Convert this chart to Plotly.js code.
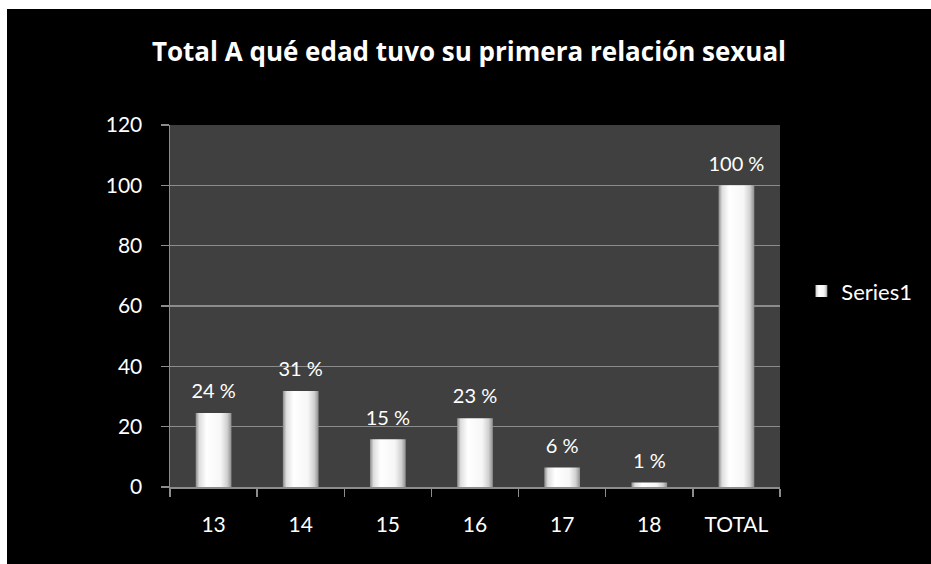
<!DOCTYPE html>
<html>
<head>
<meta charset="utf-8">
<script src="https://cdn.plot.ly/plotly-3.0.1.min.js"></script>
<style>
  html, body { margin: 0; padding: 0; background: #ffffff; width: 931px; height: 564px; overflow: hidden; }
  #chart { position: absolute; left: 7px; top: 9px; width: 924px; height: 555px; }
</style>
</head>
<body>
<div id="chart"></div>
<script>
const categories = ['13', '14', '15', '16', '17', '18', 'TOTAL'];
const values = [24.5, 31.8, 15.8, 22.8, 6.5, 1.5, 100];
const labels = ['24 %', '31 %', '15 %', '23 %', '6 %', '1 %', '100 %'];
const seriesName = 'Series1';
const chartTitle = 'Total A qué edad tuvo su primera relación sexual';

const FONT = 'Lato, "Open Sans", sans-serif';
const TITLE_FONT = '"Open Sans", Lato, sans-serif';

const bars = {
  type: 'bar',
  x: categories,
  y: values,
  name: seriesName,
  width: 0.41,
  marker: { color: '#eeeeee', line: { width: 0 } },
  hoverinfo: 'x+y'
};

const textTrace = {
  type: 'scatter',
  mode: 'markers+text',
  x: categories,
  y: values,
  text: labels,
  textposition: 'top center',
  textfont: { family: FONT, size: 20, color: '#ffffff' },
  marker: { size: 14, opacity: 0 },
  showlegend: false,
  hoverinfo: 'skip',
  cliponaxis: false
};

const layout = {
  width: 924,
  height: 555,
  paper_bgcolor: '#000000',
  plot_bgcolor: '#404040',
  margin: { l: 163, r: 151, t: 116, b: 77 },
  title: {
    text: '<b>' + chartTitle + '</b>',
    font: { family: TITLE_FONT, size: 26, color: '#ffffff' },
    x: 0.5, xanchor: 'center',
    y: 1 - 43 / 555, yanchor: 'middle'
  },
  xaxis: {
    type: 'category',
    tickson: 'boundaries',
    ticks: 'outside',
    ticklen: 8,
    tickcolor: '#8c8c8c',
    tickwidth: 1.5,
    showline: true,
    linecolor: '#8c8c8c',
    linewidth: 1.5,
    showgrid: false,
    tickfont: { family: FONT, size: 21, color: '#ffffff' },
    ticklabelstandoff: 18,
    fixedrange: true
  },
  yaxis: {
    range: [0, 120],
    tickvals: [0, 20, 40, 60, 80, 100, 120],
    ticks: 'outside',
    ticklen: 8,
    tickcolor: '#8c8c8c',
    tickwidth: 1.5,
    showline: true,
    linecolor: '#8c8c8c',
    linewidth: 1.5,
    showgrid: true,
    gridcolor: '#8c8c8c',
    gridwidth: 1.5,
    zeroline: false,
    tickfont: { family: FONT, size: 21, color: '#ffffff' },
    ticklabelstandoff: 14,
    fixedrange: true
  },
  showlegend: true,
  legend: {
    x: 1.035, xanchor: 'left',
    y: 0.541, yanchor: 'middle',
    bgcolor: 'rgba(0,0,0,0)',
    font: { family: FONT, size: 22, color: '#ffffff' },
    itemwidth: 30
  },
  bargap: 0.59
};

Plotly.newPlot('chart', [bars, textTrace], layout, { displayModeBar: false, staticPlot: true }).then(function (gd) {
  const svgNS = 'http://www.w3.org/2000/svg';
  const svg = gd.querySelector('svg.main-svg');
  let defs = svg.querySelector('defs');
  if (!defs) { defs = document.createElementNS(svgNS, 'defs'); svg.insertBefore(defs, svg.firstChild); }
  const grad = document.createElementNS(svgNS, 'linearGradient');
  grad.setAttribute('id', 'barGrad');
  grad.setAttribute('x1', '0'); grad.setAttribute('y1', '0');
  grad.setAttribute('x2', '1'); grad.setAttribute('y2', '0');
  [['0', '#8a8a8a'], ['0.1', '#dedede'], ['0.3', '#ffffff'], ['0.7', '#f6f6f6'], ['0.88', '#d0d0d0'], ['1', '#8e8e8e']].forEach(function (s) {
    const st = document.createElementNS(svgNS, 'stop');
    st.setAttribute('offset', s[0]);
    st.setAttribute('stop-color', s[1]);
    grad.appendChild(st);
  });
  defs.appendChild(grad);
  gd.querySelectorAll('.barlayer .point path').forEach(function (p) { p.style.fill = 'url(#barGrad)'; });
  gd.querySelectorAll('.legendpoints path').forEach(function (p) { p.style.fill = 'url(#barGrad)'; });
});
</script>
</body>
</html>
